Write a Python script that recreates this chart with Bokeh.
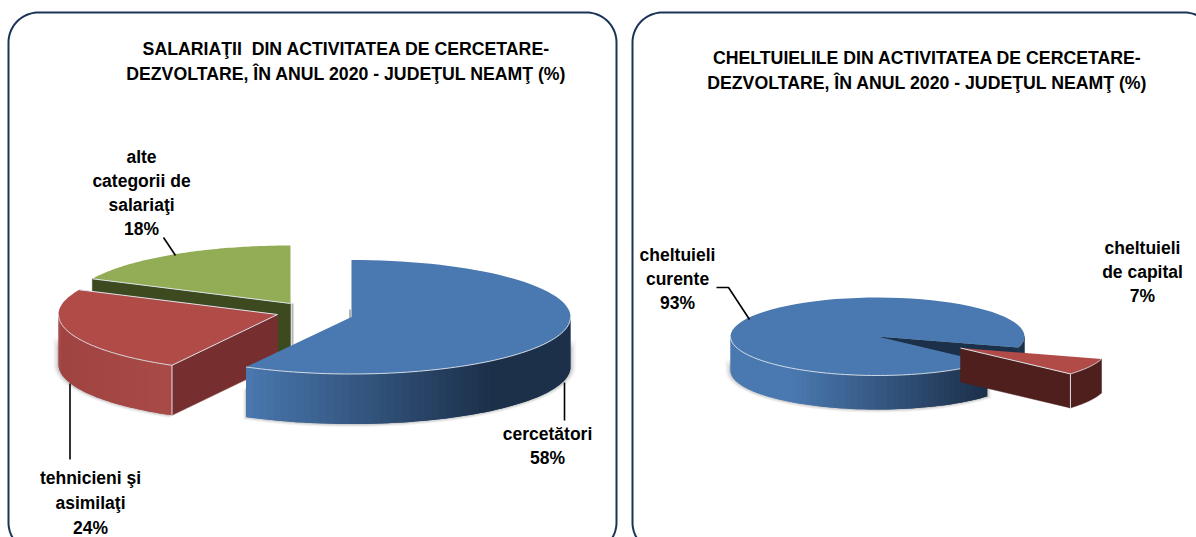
import numpy as np
from bokeh.plotting import figure
from bokeh.models import Range1d
from bokeh.core.properties import value
from bokeh.embed import file_html
from bokeh.resources import INLINE

# ---- data ----
staff_categories = ["cercetători", "tehnicieni şi asimilaţi", "alte categorii de salariaţi"]
staff_values = [58, 24, 18]
cost_categories = ["cheltuieli curente", "cheltuieli de capital"]
cost_values = [93, 7]
title_staff = ["SALARIAŢII\u00a0 DIN ACTIVITATEA DE CERCETARE-", "DEZVOLTARE, ÎN ANUL 2020 - JUDEŢUL NEAMŢ (%)"]
title_cost = ["CHELTUIELILE DIN ACTIVITATEA DE CERCETARE-", "DEZVOLTARE, ÎN ANUL 2020 - JUDEŢUL NEAMŢ (%)"]

W, H = 1196, 537
FONT = "Liberation Sans"
BLUE, BLUE_DARK = "#4A79B1", "#1C304A"
RED, RED_WALL, RED_FACE, RED_DARK = "#B14B48", "#A94A47", "#762E2E", "#4E1F1D"
GREEN, GREEN_DARK = "#92AD55", "#3D4A20"
EDGE = "#DDE3EA"
NAVY = "#1C3557"

p = figure(width=W, height=H, x_range=Range1d(0, W), y_range=Range1d(H, 0),
           output_backend="svg", toolbar_location=None, min_border=0,
           outline_line_color=None, background_fill_color="white")
p.xaxis.visible = False
p.yaxis.visible = False
p.grid.visible = False


def rim(c, rx, ry, deg):
    t = np.radians(np.asarray(deg, dtype=float))
    return c[0] + rx * np.sin(t), c[1] - ry * np.cos(t)


def arc(a0, a1, n=80):
    return np.linspace(a0, a1, n)


def top(c, rx, ry, a0, a1, color):
    x, y = rim(c, rx, ry, arc(a0, a1))
    p.patch(np.r_[c[0], x], np.r_[c[1], y], fill_color=color, line_color=None)


def face(c, rx, ry, d, deg, color):
    x, y = rim(c, rx, ry, deg)
    p.patch([c[0], x, x, c[0]], [c[1], y, y + d, c[1] + d], fill_color=color, line_color=color, line_width=0.5)


def wall(c, rx, ry, d, a0, a1, colorfn):
    a = arc(a0, a1, 60)
    x, y = rim(c, rx, ry, a)
    for i in range(len(a) - 1):
        j = min(i + 2, len(a) - 1)
        xs = x[i:j + 1]
        ys = y[i:j + 1]
        col = colorfn(0.5 * (x[i] + x[i + 1]))
        p.patch(np.r_[xs, xs[::-1]], np.r_[ys, (ys + d)[::-1]], fill_color=col, line_color=None)


def solid_wall(c, rx, ry, d, a0, a1, color):
    x, y = rim(c, rx, ry, arc(a0, a1))
    p.patch(np.r_[x, x[::-1]], np.r_[y, (y + d)[::-1]], fill_color=color, line_color=color, line_width=0.5)


def halo(c, rx, ry, d, a0, a1):
    for grow, alpha in ((5, 0.10), (3, 0.14), (1.5, 0.18)):
        x, y = rim(c, rx + grow, ry + grow * 0.6, arc(a0, a1))
        p.patch(np.r_[x, x[::-1]], np.r_[y + 20, (y + d)[::-1]], fill_color="#777777",
                fill_alpha=alpha, line_color=None)


def rim_line(c, rx, ry, a0, a1):
    x, y = rim(c, rx, ry, arc(a0, a1))
    p.line(x, y, line_color=EDGE, line_width=1, line_alpha=0.9)


def seg(xs, ys, color=EDGE, width=1.0):
    p.line(xs, ys, line_color=color, line_width=width)


def blend(c0, c1, t):
    t = min(max(t, 0), 1)
    a = [int(c0[i:i + 2], 16) for i in (1, 3, 5)]
    b = [int(c1[i:i + 2], 16) for i in (1, 3, 5)]
    return "#%02x%02x%02x" % tuple(int(round(u + (v - u) * t)) for u, v in zip(a, b))


def grad(x0, x1, c0=BLUE, c1=BLUE_DARK):
    return lambda x: blend(c0, c1, (x - x0) / (x1 - x0))


def panel(x0, y0, x1, y1, r):
    t = np.linspace(0, np.pi / 2, 24)
    xs = np.r_[x0 + r - r * np.cos(t), x1 - r + r * np.sin(t), x1 - r + r * np.cos(t), x0 + r - r * np.sin(t), x0]
    ys = np.r_[y0 + r - r * np.sin(t), y0 + r - r * np.cos(t), y1 - r + r * np.sin(t), y1 - r + r * np.cos(t), y0 + r]
    p.line(xs, ys, line_color=NAVY, line_width=2)


def label(x, y, lines, size="17.5px", step=24):
    for i, s in enumerate(lines):
        p.text([x], [y + i * step], text=[s], text_align="center", text_baseline="middle",
               text_font=value(FONT), text_font_size=size, text_font_style="bold", text_color="#000000")


panel(8, 12, 616, 552, 30)
panel(632, 12, 1214, 552, 30)

# ---- left pie: three exploded slices, clockwise from 12 o'clock ----
ang = np.cumsum([0] + staff_values) * 3.6
RX, RY, D = 219, 58, 50
RY_BLUE = 57
c_blue, c_red, c_green = (351, 316.5), (277, 314), (290, 303)

halo(c_blue, RX, RY_BLUE, D, 90, ang[1])
halo(c_red, RX, RY, D, ang[1], 270)

seg([292, 292], [303, 345], "#B5B5B5", 2)
seg([349.5, 349.5], [309, 319], "#B5B5B5", 2)

# green
face(c_green, RX, RY, D, ang[2], GREEN_DARK)
top(c_green, RX, RY, ang[2], ang[3], GREEN)
gx, gy = rim(c_green, RX, RY, ang[2])
seg([gx, c_green[0]], [gy, c_green[1]])

# red
face(c_red, RX, RY, D, ang[1], RED_FACE)
wall(c_red, RX, RY, D, ang[1], 270, grad(60, 172, "#A04441", RED_WALL))
top(c_red, RX, RY, ang[1], ang[2], RED)
rim_line(c_red, RX, RY, ang[1], 270)
rx_, ry_ = rim(c_red, RX, RY, ang[1])
seg([rx_, rx_], [ry_, ry_ + D])
seg([rx_, c_red[0]], [ry_, c_red[1]])
ex, ey = rim(c_red, RX, RY, ang[2])
seg([ex, c_red[0]], [ey, c_red[1]])

# blue
wall(c_blue, RX, RY_BLUE, D, 90, ang[1], grad(241, 490))
top(c_blue, RX, RY_BLUE, 0, ang[1], BLUE)
rim_line(c_blue, RX, RY_BLUE, 90, ang[1])

# leaders and labels of the left pie
seg([163, 175], [237, 255], "#000000", 1.6)
seg([69.5, 69.5], [383, 459], "#000000", 1.6)
seg([564, 564], [382, 420], "#000000", 1.6)

label(346, 48, title_staff[:1], "17.7px")
label(346, 73, title_staff[1:], "17.7px")
label(141, 156, ["alte", "categorii de", "salariaţi", f"{staff_values[2]}%"])
label(90, 477, ["tehnicieni şi", "asimilaţi", f"{staff_values[1]}%"], step=25)
label(547, 433, ["cercetători", f"{staff_values[0]}%"])

# ---- right pie: small slice pulled out ----
start = 106.4  # rotation of the first slice
small = cost_values[1] * 3.6
RX2, RY2, D2 = 147, 39, 34
c_main, c_out = (877, 336), (960, 347.5)

halo(c_main, RX2, RY2, D2, start + small, 270)

# blue
face(c_main, RX2, RY2, D2, start, BLUE_DARK)
solid_wall(c_main, RX2, RY2, D2, 90, start, BLUE_DARK)
wall(c_main, RX2, RY2, D2, start + small, 270, grad(790, 985))
top(c_main, RX2, RY2, start + small, start + 360, BLUE)
rim_line(c_main, RX2, RY2, start + small, 270)

# red
face(c_out, RX2, RY2, D2, start + small, RED_DARK)
solid_wall(c_out, RX2, RY2, D2, start, start + small, RED_DARK)
top(c_out, RX2, RY2, start, start + small, RED)
ox, oy = rim(c_out, RX2, RY2, start + small)
seg([ox, ox], [oy, oy + D2])
seg([ox, c_out[0]], [oy, c_out[1]])
rim_line(c_out, RX2, RY2, start, start + small)

# leaders and labels of the right pie
p.line([716, 728, 749], [287, 287, 319], line_color="#000000", line_width=1.6)

label(927, 57, title_cost[:1], "17.7px")
label(927, 82, title_cost[1:], "17.7px")
label(677, 254, ["cheltuieli", "curente", f"{cost_values[0]}%"])
label(1142, 247, ["cheltuieli", "de capital", f"{cost_values[1]}%"])

open("out.html", "w").write(file_html(p, INLINE))
